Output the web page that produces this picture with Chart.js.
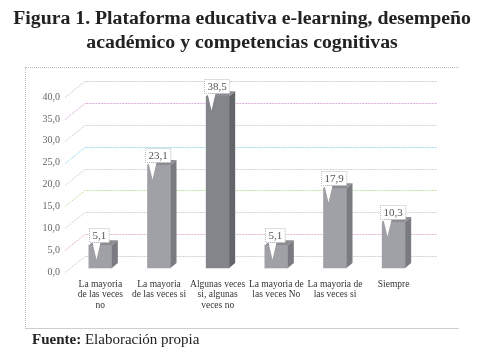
<!DOCTYPE html>
<html>
<head>
<meta charset="utf-8">
<script src="https://cdn.jsdelivr.net/npm/chart.js@4.4.1/dist/chart.umd.min.js"></script>
<style>
  body { margin: 0; background: #fff; width: 484px; height: 357px; overflow: hidden; position: relative; font-family: "Liberation Serif", "Times New Roman", serif; }
  #title { position: absolute; left: 0; top: 5px; width: 484px; text-align: center; font-weight: bold; font-size: 19.8px; line-height: 24px; color: #222; }
  #frame { position: absolute; left: 25px; top: 67px; width: 433px; height: 260px; border-left: 1px dotted #bbb; border-top: 1px dotted #bbb; border-bottom: 1px solid #ccd0cc; }
  #wrap { position: absolute; left: 0; top: 0; width: 484px; height: 357px; }
  #footer { position: absolute; left: 32px; top: 331px; font-size: 15px; color: #222; }
</style>
</head>
<body>
<div id="frame"></div>
<div id="wrap"><canvas id="chart" width="484" height="357"></canvas></div>
<div id="title">Figura 1. Plataforma educativa e-learning, desempeño<br>académico y competencias cognitivas</div>
<div id="footer"><b>Fuente:</b> Elaboración propia</div>
<script>
const categories = [
    ["La mayoria", "de las veces", "no"],
    ["La mayoria", "de las veces si"],
    ["Algunas veces", "si, algunas", "veces no"],
    ["La mayoria de", "las veces No"],
    ["La mayoria de", "las veces si"],
    ["Siempre"]
];
const values = [5.1, 23.1, 38.5, 5.1, 17.9, 10.3];
const yTicks = [0, 5, 10, 15, 20, 25, 30, 35, 40];

const barColors = ["#a0a0a7", "#a0a0a7", "#84848b", "#a0a0a7", "#a0a0a7", "#a0a0a7"];
const sideColors = ["#7a7a81", "#7a7a81", "#64646b", "#7a7a81", "#7a7a81", "#7a7a81"];
const gridColors = ["#cfcfd6", "#e4b4d6", "#d2d0d2", "#bfe2a4", "#d2d0d6", "#9edcf2", "#d2d0d2", "#dcacdc", "#d6c8d6"];

const depthX = 14, depthY = 16, sideX = 6, sideY = 5;

const fmt = v => v.toFixed(1).replace(".", ",");

// back wall gridlines with the diagonal floor lines
const wallPlugin = {
    id: "wall",
    beforeDatasetsDraw(chart) {
        const { ctx, chartArea } = chart;
        const y = chart.scales.y;
        ctx.save();
        ctx.lineWidth = 1;
        ctx.setLineDash([2, 1]);
        yTicks.forEach((t, i) => {
            const py = Math.round(y.getPixelForValue(t)) + 0.5;
            ctx.strokeStyle = gridColors[i];
            ctx.beginPath();
            ctx.moveTo(chartArea.left - 6, py);
            ctx.lineTo(chartArea.left + depthX, py - depthY);
            ctx.lineTo(chartArea.right + depthX, py - depthY);
            ctx.stroke();
        });
        ctx.restore();
    }
};

// side/top faces of bars and value callouts
const barPlugin = {
    id: "bar3d",
    afterDatasetsDraw(chart) {
        const { ctx } = chart;
        const meta = chart.getDatasetMeta(0);
        ctx.save();
        meta.data.forEach((bar, i) => {
            const w = bar.width;
            const l = bar.x - w / 2, r = bar.x + w / 2;
            const top = bar.y, base = bar.base;
            ctx.fillStyle = sideColors[i];
            ctx.beginPath();
            ctx.moveTo(r, top);
            ctx.lineTo(r + sideX, top - sideY);
            ctx.lineTo(r + sideX, base - sideY);
            ctx.lineTo(r, base);
            ctx.closePath();
            ctx.fill();
            ctx.fillStyle = "#8c8c93";
            ctx.beginPath();
            ctx.moveTo(l, top);
            ctx.lineTo(l + sideX, top - sideY);
            ctx.lineTo(r + sideX, top - sideY);
            ctx.lineTo(r, top);
            ctx.closePath();
            ctx.fill();

            // callout
            const txt = fmt(values[i]);
            ctx.font = "11px 'Liberation Serif', serif";
            const tw = ctx.measureText(txt).width;
            const bw = tw + 6, bh = 14;
            const bx = Math.round(bar.x - 1 - bw / 2) + 0.5;
            const by = Math.round(top - 17) + 0.5;
            ctx.fillStyle = "#fff";
            ctx.beginPath();
            ctx.moveTo(bx + 3, by + bh);
            ctx.lineTo(bx + 7, by + bh + 17);
            ctx.lineTo(bx + 11, by + bh);
            ctx.closePath();
            ctx.fill();
            ctx.strokeStyle = "#bbb";
            ctx.lineWidth = 1;
            ctx.setLineDash([1, 1]);
            ctx.fillRect(bx, by, bw, bh);
            ctx.strokeRect(bx, by, bw, bh);
            ctx.setLineDash([]);
            ctx.fillStyle = "#555";
            ctx.textAlign = "center";
            ctx.textBaseline = "middle";
            ctx.fillText(txt, bx + bw / 2, by + bh / 2 + 0.5);
        });
        ctx.restore();
    }
};

new Chart(document.getElementById("chart"), {
    type: "bar",
    data: {
        labels: categories,
        datasets: [{
            data: values,
            backgroundColor: barColors,
            barThickness: 23,
            yAxisID: "yb",
            clip: false
        }]
    },
    options: {
        responsive: false,
        animation: false,
        devicePixelRatio: 1,
        layout: { padding: { left: 0, right: 61, top: 97, bottom: 0 } },
        plugins: { legend: { display: false }, tooltip: { enabled: false } },
        scales: {
            x: {
                grid: { display: false, drawTicks: false },
                border: { display: false },
                ticks: {
                    color: "#333",
                    font: { family: "'Liberation Serif', serif", size: 9.5, lineHeight: 1.1 },
                    padding: 7,
                    maxRotation: 0,
                    autoSkip: false
                },
                afterFit: s => { s.height = 85; }
            },
            y: {
                position: "left",
                min: 0,
                max: 40,
                afterBuildTicks: s => { s.ticks = yTicks.map(v => ({ value: v })); },
                grid: { display: false, drawTicks: false },
                border: { display: false },
                ticks: {
                    color: "#666",
                    font: { family: "'Liberation Serif', serif", size: 10 },
                    padding: 11,
                    callback: v => fmt(v)
                },
                afterFit: s => { s.width = 71; }
            },
            yb: {
                display: false,
                min: -0.9,
                max: 38.34
            }
        }
    },
    plugins: [wallPlugin, barPlugin]
});
</script>
</body>
</html>
